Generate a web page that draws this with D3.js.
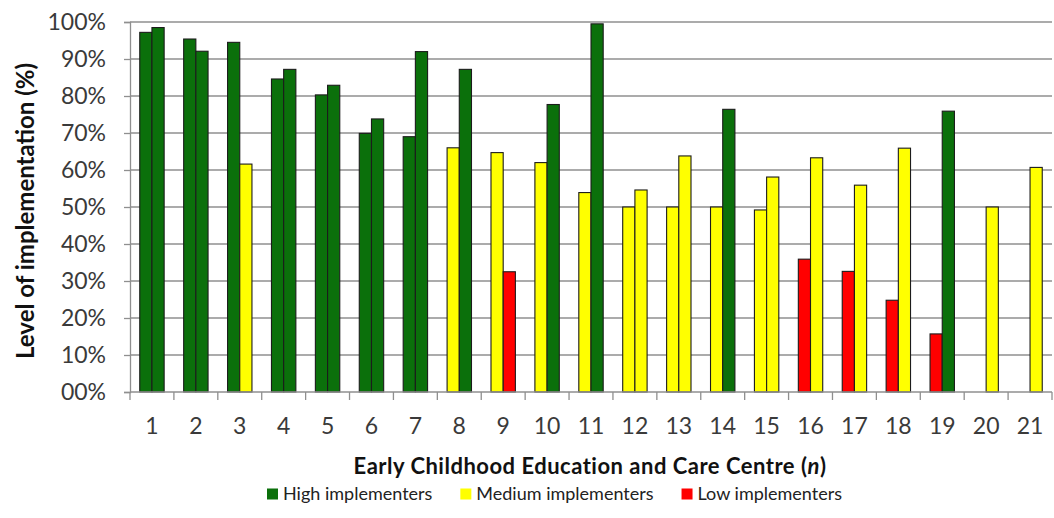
<!DOCTYPE html>
<html>
<head>
<meta charset="utf-8">
<script src="https://cdn.jsdelivr.net/npm/d3@7/dist/d3.min.js"></script>
<style>
  html, body { margin: 0; padding: 0; background: #fff; }
  svg { display: block; font-family: Lato, "Open Sans", sans-serif; }
</style>
</head>
<body>
<svg id="chart" width="1054" height="518"></svg>
<script>
// Centres (n = 21) and their two implementation scores (%)
const centres = ["1","2","3","4","5","6","7","8","9","10","11","12","13","14","15","16","17","18","19","20","21"];
const firstScore  = [97.2, 95.4, 94.5, 84.6, 80.3, 69.9, 69.0, 66.0, 64.7, 62.0, 53.9, 50.0, 50.0, 50.0, 49.2, 35.9, 32.6, 24.8, 15.7, null, null];
const secondScore = [98.5, 92.1, 61.6, 87.2, 82.9, 73.8, 92.0, 87.2, 32.5, 77.7, 99.5, 54.6, 63.8, 76.4, 58.1, 63.3, 55.9, 65.9, 75.9, 50.0, 60.7];
const firstLevel  = ["High","High","High","High","High","High","High","Medium","Medium","Medium","Medium","Medium","Medium","Medium","Medium","Low","Low","Low","Low",null,null];
const secondLevel = ["High","High","Medium","High","High","High","High","High","Low","High","High","Medium","Medium","High","Medium","Medium","Medium","Medium","High","Medium","Medium"];
const levels = ["High","Medium","Low"];
const levelLabels = ["High implementers","Medium implementers","Low implementers"];
const levelColours = ["#0b700b","#ffff00","#ff0000"];
const yTicks = [0,10,20,30,40,50,60,70,80,90,100];
const yTickLabels = ["00%","10%","20%","30%","40%","50%","60%","70%","80%","90%","100%"];

const svg = d3.select("#chart");
const plot = { left: 130, right: 1052, top: 22, bottom: 392 };

const x = d3.scaleBand().domain(centres).range([plot.left, plot.right]).paddingInner(0).paddingOuter(0);
const xSub = d3.scaleBand().domain([0, 1]).range([0, x.bandwidth()]).paddingInner(0).paddingOuter(0.8);
const y = d3.scaleLinear().domain([0, 100]).range([plot.bottom, plot.top]);
const colour = d3.scaleOrdinal().domain(levels).range(levelColours);

// horizontal gridlines
svg.append("g")
  .selectAll("line")
  .data(yTicks.slice(1))
  .join("line")
  .attr("x1", plot.left).attr("x2", plot.right)
  .attr("y1", d => y(d)).attr("y2", d => y(d))
  .attr("stroke", "#8f8f8f").attr("stroke-width", 1.3);

// bars
const bars = [];
centres.forEach((c, i) => {
  if (firstScore[i] != null) bars.push({ c, k: 0, v: firstScore[i], lvl: firstLevel[i] });
  if (secondScore[i] != null) bars.push({ c, k: 1, v: secondScore[i], lvl: secondLevel[i] });
});
svg.append("g")
  .selectAll("rect")
  .data(bars)
  .join("rect")
  .attr("x", d => x(d.c) + xSub(d.k))
  .attr("width", xSub.bandwidth())
  .attr("y", d => y(d.v))
  .attr("height", d => y(0) - y(d.v))
  .attr("fill", d => colour(d.lvl))
  .attr("stroke", "#1c1c1c").attr("stroke-width", 1.1);

// y axis
const yAxis = svg.append("g")
  .attr("transform", `translate(${plot.left},0)`)
  .call(d3.axisLeft(y).tickValues(yTicks).tickFormat((d, i) => yTickLabels[i]).tickSize(6).tickPadding(18));
yAxis.select(".domain").attr("stroke", "#8f8f8f").attr("stroke-width", 1.3);
yAxis.selectAll(".tick line").attr("stroke", "#8f8f8f").attr("stroke-width", 1.3);
yAxis.selectAll(".tick text").attr("font-size", 23).attr("fill", "#3a3a3a").attr("font-family", "Lato, sans-serif");

// x axis: ticks sit between centres
const xAxis = svg.append("g").attr("transform", `translate(0,${plot.bottom})`);
xAxis.append("line")
  .attr("x1", plot.left).attr("x2", plot.right)
  .attr("stroke", "#8f8f8f").attr("stroke-width", 1.3);
const bounds = centres.map(c => x(c)).concat([plot.right]);
xAxis.selectAll("line.tk")
  .data(bounds)
  .join("line").attr("class", "tk")
  .attr("x1", d => d).attr("x2", d => d)
  .attr("y1", 0).attr("y2", 8)
  .attr("stroke", "#8f8f8f").attr("stroke-width", 1.3);
xAxis.selectAll("text")
  .data(centres)
  .join("text")
  .attr("x", d => x(d) + x.bandwidth() / 2)
  .attr("y", 42)
  .attr("text-anchor", "middle")
  .attr("font-size", 23)
  .attr("fill", "#3a3a3a")
  .text(d => d);

// axis titles
svg.append("text")
  .attr("transform", "translate(34,211) rotate(-90)")
  .attr("text-anchor", "middle")
  .attr("font-size", 24).attr("font-weight", "bold").attr("fill", "#111")
  .text("Level of implementation (%)");

const xt = svg.append("text")
  .attr("x", 590).attr("y", 474)
  .attr("text-anchor", "middle")
  .attr("font-size", 22).attr("font-weight", "bold").attr("fill", "#111")
  .attr("letter-spacing", 0.5);
xt.append("tspan").text("Early Childhood Education and Care Centre (");
xt.append("tspan").attr("font-style", "italic").text("n");
xt.append("tspan").text(")");

// legend: swatch + label, laid out left to right
const legend = svg.append("g").attr("transform", "translate(267,500)");
let cursor = 0;
levels.forEach((lvl, i) => {
  const g = legend.append("g").attr("transform", `translate(${cursor},0)`);
  g.append("rect")
    .attr("x", 0).attr("y", -11.5).attr("width", 11).attr("height", 11)
    .attr("fill", colour(lvl));
  const t = g.append("text")
    .attr("x", 16).attr("y", 0)
    .attr("font-size", 18).attr("fill", "#222")
    .text(levelLabels[i]);
  cursor += 16 + t.node().getComputedTextLength() + 28;
});
</script>
</body>
</html>
